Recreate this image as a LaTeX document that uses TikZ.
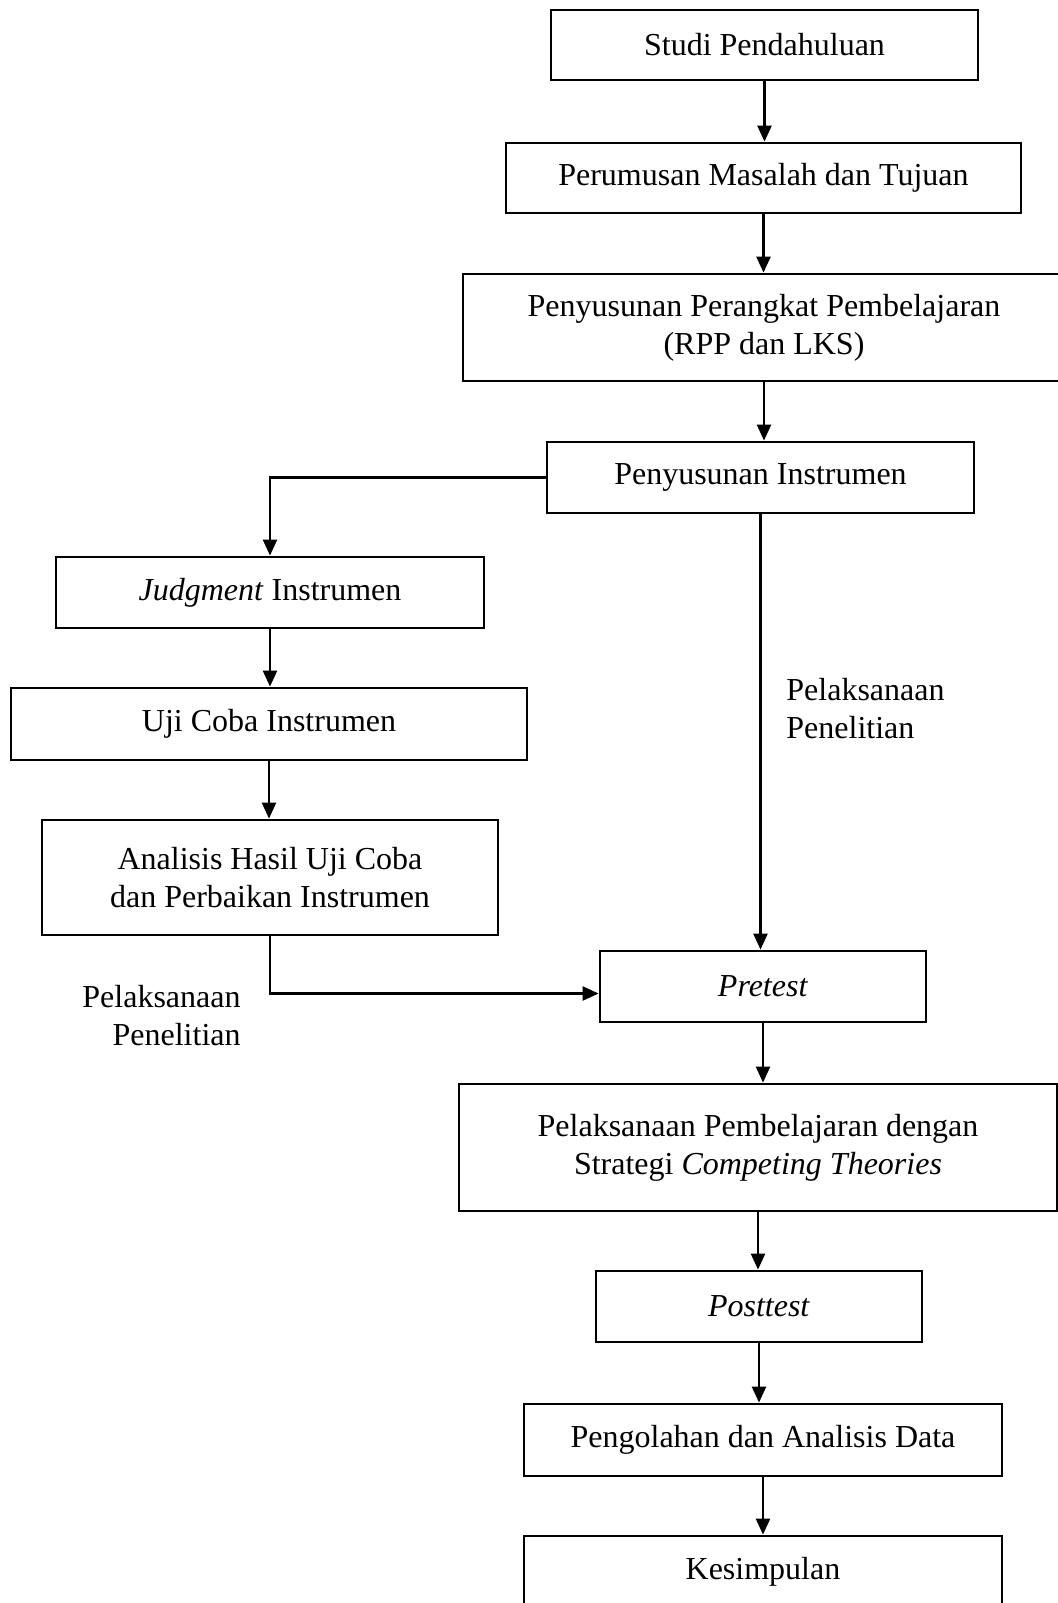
\documentclass[tikz,border=0pt]{standalone}
\usepackage{fontspec}
\setmainfont{Liberation Serif}
\usepackage{tikz}
\usetikzlibrary{positioning,arrows.meta}
\tikzset{}

\begin{document}
\begin{tikzpicture}[x=0.5pt,y=-0.5pt]
            \tikzset{
                alur box/.style={draw,line width=1.4pt,align=center,inner sep=0pt,
                    font=\fontsize{16}{19}\selectfont},
                alur label/.style={inner sep=0pt,font=\fontsize{16}{19}\selectfont},
                alur edge/.style={line width=1.2pt,-{Triangle[width=7pt,length=8pt]}}
            }
            \useasboundingbox (0,0) rectangle (1057,1603);
            \node[alur box,minimum width=213.5pt,minimum height=35pt] (studi) at (764.5, 45) {Studi Pendahuluan};
            \node[alur box,minimum width=257.5pt,minimum height=35pt] (rumus) at (763.5, 178) {Perumusan Masalah dan Tujuan};
            \node[alur box,minimum width=301pt,minimum height=53.5pt] (perangkat) at (764, 327.5) {Penyusunan Perangkat Pembelajaran\\(RPP dan LKS)};
            \node[alur box,minimum width=213.5pt,minimum height=35.5pt] (instrumen) at (760.5, 477.5) {Penyusunan Instrumen};
            \node[alur box,minimum width=214pt,minimum height=35.5pt] (judgment) at (270, 592.5) {\textit{Judgment} Instrumen};
            \node[alur box,minimum width=258pt,minimum height=36pt] (ujicoba) at (269, 724) {Uji Coba Instrumen};
            \node[alur box,minimum width=228pt,minimum height=57.5pt] (analisis) at (270, 877.5) {Analisis Hasil Uji Coba\\dan Perbaikan Instrumen};
            \node[alur box,minimum width=163pt,minimum height=35.5pt] (pretest) at (763, 986.5) {\textit{Pretest}};
            \node[alur box,minimum width=299pt,minimum height=63.5pt] (pembelajaran) at (758, 1147.5) {Pelaksanaan Pembelajaran dengan\\Strategi \textit{Competing Theories}};
            \node[alur box,minimum width=163pt,minimum height=35.5pt] (posttest) at (759, 1306.5) {\textit{Posttest}};
            \node[alur box,minimum width=239pt,minimum height=36pt] (olah) at (763, 1440) {Pengolahan dan Analisis Data};
            \node[alur box,minimum width=239pt,minimum height=36pt] (simpul) at (763, 1572) {Kesimpulan};
            \node[alur label,anchor=west,align=left] (lakkanan) at (786, 709) {Pelaksanaan\\Penelitian};
            \node[alur label,anchor=east,align=right] (lakkiri) at (241, 1016) {Pelaksanaan\\Penelitian};
            \coordinate (masuk) at ([yshift=-3.5pt]pretest.west);
            \path[alur edge]
                (studi.south) edge (studi.south |- rumus.north)
                (rumus.south) edge (rumus.south |- perangkat.north)
                (perangkat.south) edge (perangkat.south |- instrumen.north)
                (instrumen.south) edge (instrumen.south |- pretest.north)
                (judgment.south) edge (judgment.south |- ujicoba.north)
                (ujicoba.south) edge (ujicoba.south |- analisis.north)
                (pretest.south) edge (pretest.south |- pembelajaran.north)
                (pembelajaran.south) edge (pembelajaran.south |- posttest.north)
                (posttest.south) edge (posttest.south |- olah.north)
                (olah.south) edge (olah.south |- simpul.north)
                ;
            \draw[alur edge] (instrumen.west) -| (judgment.north);
            \draw[alur edge] (analisis.south) |- (masuk);
        \end{tikzpicture}
\end{document}
